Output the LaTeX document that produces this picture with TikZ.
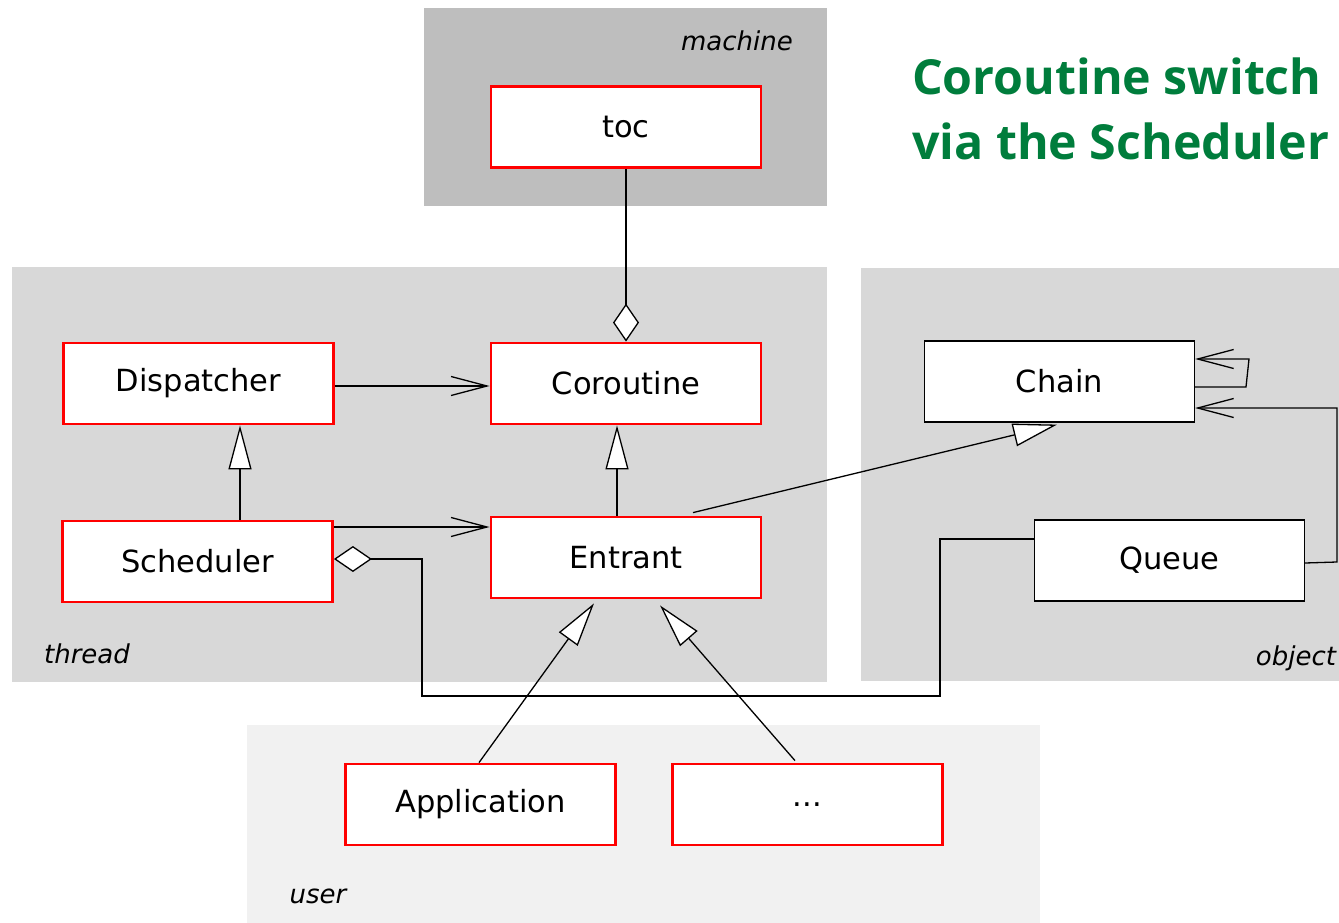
\documentclass[tikz,border=0pt]{standalone}
\usepackage{fontspec}
\setmainfont{DejaVu Sans}
\newfontfamily\titlefont{Open Sans}
\usetikzlibrary{arrows.meta,calc}
\definecolor{machinebg}{HTML}{BEBEBE}
\definecolor{threadbg}{HTML}{D8D8D8}
\definecolor{userbg}{HTML}{F1F1F1}
\definecolor{titlegreen}{RGB}{0,125,60}
\definecolor{boxred}{RGB}{255,0,0}
\tikzset{
  cls/.style={draw=boxred, line width=2.8pt, fill=white, minimum width=270pt, minimum height=81pt, inner sep=0pt, font=\fontsize{30.5}{36}\selectfont},
  objcls/.style={draw=black, line width=1.2pt, fill=white, minimum width=270pt, minimum height=81pt, inner sep=0pt, font=\fontsize{30.5}{36}\selectfont},
  conn/.style={draw=black, line width=1.3pt},
  barb/.style={conn, -{Straight Barb[length=36pt,width=19pt,line width=1.3pt]}},
  inherit/.style={conn, -{Triangle[length=44pt,width=23pt,fill=white,line width=1.3pt]}},
  aggr/.style={conn, {Diamond[length=38pt,width=26pt,fill=white,line width=1.3pt]}-},
  zonelabel/.style={font=\fontsize{26}{30}\selectfont\itshape, inner sep=0pt},
  titletext/.style={font=\titlefont\bfseries\fontsize{48.3}{58}\selectfont, text=titlegreen, inner sep=0pt, anchor=base west}
}
\begin{document}
\begin{tikzpicture}[x=1pt,y=-1pt]
\useasboundingbox (0,0) rectangle (1339,923);
% zones
\fill[machinebg] (424,8) rectangle (827,206);
\fill[threadbg] (12,267) rectangle (827,682);
\fill[threadbg] (861,268) rectangle (1339,681);
\fill[userbg] (247,725) rectangle (1040,923);
\node[zonelabel] (lmachine) at (737,41) {machine};
\node[zonelabel] (lthread) at (87,654) {thread};
\node[zonelabel] (lobject) at (1296,658) {object};
\node[zonelabel] (luser) at (318,896) {user};
% title
\node[titletext] (title1) at (912,95) {Coroutine switch};
\node[titletext] (title2) at (912,160) {via the Scheduler};
% classes
\node[cls] (toc) at (626,127) {toc};
\node[cls] (dis) at (198.5,383.5) {Dispatcher};
\node[cls] (cor) at (626,383.5) {Coroutine};
\node[cls] (sch) at (197.5,561.5) {Scheduler};
\node[cls] (ent) at (626,557.5) {Entrant};
\node[objcls] (chain) at (1059.5,381.5) {Chain};
\node[objcls] (queue) at (1169.5,560.5) {Queue};
\node[cls] (app) at (480.5,804.5) {Application};
\node[cls] (dots) at (807.5,804.5) {...};
% connectors
\draw[aggr] (cor.north) -- (toc.south);
\draw[barb] ($(dis.east)+(0,2.5)$) -- ($(cor.west)+(0,2.5)$);
\draw[inherit] ($(sch.north)+(42.5,0)$) -- ($(dis.south)+(41.5,0)$);
\draw[inherit] ($(ent.north)+(-9,0)$) -- ($(cor.south)+(-9,0)$);
\draw[barb] ($(sch.east)+(0,-34.5)$) -- ($(ent.west)+(0,-30.5)$);
\draw[aggr] ($(sch.east)+(0,-2.5)$) -- (422,559) -- (422,696) -- (940,696) -- (940,539) -- ($(queue.west)+(0,-21.5)$);
\draw[inherit] ($(ent.north)+(67,-3)$) -- ($(chain.south)+(-2.5,2)$);
\draw[inherit] ($(app.north)+(-1.5,0)$) -- ($(ent.south)+(-32,4)$);
\draw[inherit] ($(dots.north)+(-12.5,-2)$) -- ($(ent.south)+(34,6)$);
\draw[barb] ($(chain.east)+(0,5.5)$) -- (1246,387) -- (1249,359) -- ($(chain.east)+(0,-22.5)$);
\draw[barb] ($(queue.east)+(0,2.5)$) -- (1337,562) -- (1337,408) -- ($(chain.east)+(0,26.5)$);
\end{tikzpicture}
\end{document}
